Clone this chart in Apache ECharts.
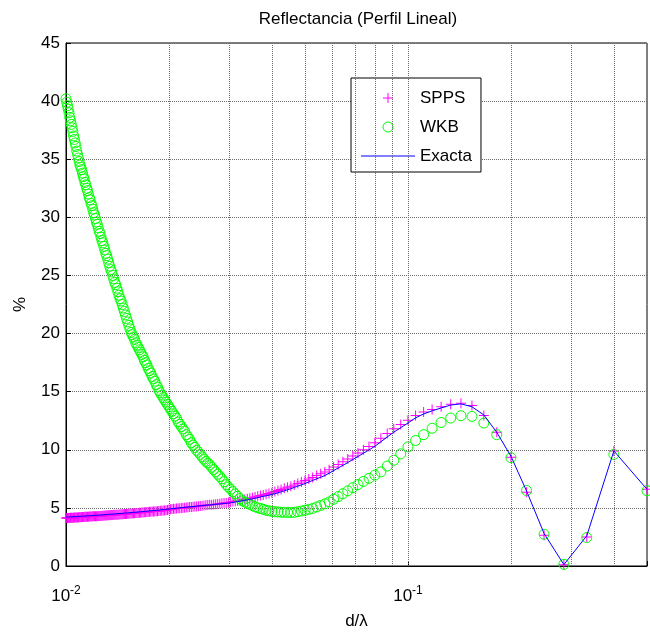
<!DOCTYPE html>
<html>
<head>
<meta charset="utf-8">
<script src="https://cdn.jsdelivr.net/npm/echarts@6/dist/echarts.min.js"></script>
<style>
  html, body { margin: 0; padding: 0; background: #fff; }
  #chart { width: 650px; height: 635px; }
</style>
</head>
<body>
<div id="chart"></div>
<script>
// d/lambda sample positions (x axis, log scale)
const dOverLambda = [
  0.01, 0.0100503, 0.010101, 0.0101523, 0.0102041, 0.0102564, 0.0103093, 0.0103627, 0.0104167, 0.0104712,
  0.0105263, 0.010582, 0.0106383, 0.0106952, 0.0107527, 0.0108108, 0.0108696, 0.010929, 0.010989, 0.0110497,
  0.0111111, 0.0111732, 0.011236, 0.0112994, 0.0113636, 0.0114286, 0.0114943, 0.0115607, 0.0116279, 0.011696,
  0.0117647, 0.0118343, 0.0119048, 0.011976, 0.0120482, 0.0121212, 0.0121951, 0.0122699, 0.0123457, 0.0124224,
  0.0125, 0.0125786, 0.0126582, 0.0127389, 0.0128205, 0.0129032, 0.012987, 0.0130719, 0.0131579, 0.013245,
  0.0133333, 0.0134228, 0.0135135, 0.0136054, 0.0136986, 0.0137931, 0.0138889, 0.013986, 0.0140845, 0.0141844,
  0.0142857, 0.0143885, 0.0144928, 0.0145985, 0.0147059, 0.0148148, 0.0149254, 0.0150376, 0.0151515, 0.0152672,
  0.0153846, 0.0155039, 0.015625, 0.015748, 0.015873, 0.016, 0.016129, 0.0162602, 0.0163934, 0.0165289,
  0.0166667, 0.0168067, 0.0169492, 0.017094, 0.0172414, 0.0173913, 0.0175439, 0.0176991, 0.0178571, 0.018018,
  0.0181818, 0.0183486, 0.0185185, 0.0186916, 0.0188679, 0.0190476, 0.0192308, 0.0194175, 0.0196078, 0.019802,
  0.02, 0.020202, 0.0204082, 0.0206186, 0.0208333, 0.0210526, 0.0212766, 0.0215054, 0.0217391, 0.021978,
  0.0222222, 0.0224719, 0.0227273, 0.0229885, 0.0232558, 0.0235294, 0.0238095, 0.0240964, 0.0243902, 0.0246914,
  0.025, 0.0253165, 0.025641, 0.025974, 0.0263158, 0.0266667, 0.027027, 0.0273973, 0.0277778, 0.028169,
  0.0285714, 0.0289855, 0.0294118, 0.0298507, 0.030303, 0.0307692, 0.03125, 0.031746, 0.0322581, 0.0327869,
  0.0333333, 0.0338983, 0.0344828, 0.0350877, 0.0357143, 0.0363636, 0.037037, 0.0377358, 0.0384615, 0.0392157,
  0.04, 0.0408163, 0.0416667, 0.0425532, 0.0434783, 0.0444444, 0.0454545, 0.0465116, 0.047619, 0.0487805,
  0.05, 0.051282, 0.052632, 0.054054, 0.055556, 0.057143, 0.058824, 0.060606, 0.0625, 0.064516,
  0.066667, 0.068966, 0.071429, 0.074074, 0.076923, 0.08, 0.083333, 0.086957, 0.090909, 0.095238,
  0.1, 0.105263, 0.111111, 0.117647, 0.125, 0.133333, 0.142857, 0.153846, 0.166667, 0.181818,
  0.2, 0.222222, 0.25, 0.285714, 0.333333, 0.4, 0.5
];

const spps = [
  4.12, 4.12, 4.13, 4.13, 4.14, 4.14, 4.15, 4.15, 4.15, 4.16,
  4.16, 4.17, 4.17, 4.18, 4.18, 4.18, 4.19, 4.19, 4.20, 4.20,
  4.21, 4.21, 4.22, 4.22, 4.23, 4.23, 4.23, 4.24, 4.24, 4.25,
  4.25, 4.26, 4.26, 4.27, 4.27, 4.28, 4.28, 4.29, 4.29, 4.30,
  4.30, 4.31, 4.31, 4.32, 4.33, 4.33, 4.34, 4.34, 4.35, 4.36,
  4.36, 4.37, 4.38, 4.38, 4.39, 4.40, 4.40, 4.41, 4.42, 4.42,
  4.43, 4.44, 4.45, 4.45, 4.46, 4.47, 4.48, 4.48, 4.49, 4.50,
  4.51, 4.52, 4.52, 4.53, 4.54, 4.55, 4.56, 4.57, 4.58, 4.59,
  4.60, 4.61, 4.62, 4.63, 4.64, 4.65, 4.66, 4.67, 4.68, 4.69,
  4.70, 4.71, 4.72, 4.73, 4.75, 4.76, 4.77, 4.78, 4.80, 4.81,
  4.86, 4.88, 4.90, 4.92, 4.93, 4.94, 4.96, 4.97, 4.98, 5.00,
  5.01, 5.03, 5.05, 5.07, 5.08, 5.10, 5.11, 5.13, 5.15, 5.17,
  5.18, 5.20, 5.22, 5.24, 5.26, 5.27, 5.30, 5.32, 5.34, 5.36,
  5.39, 5.41, 5.43, 5.46, 5.50, 5.54, 5.58, 5.62, 5.66, 5.70,
  5.74, 5.78, 5.83, 5.88, 5.94, 6.00, 6.06, 6.11, 6.17, 6.23,
  6.30, 6.40, 6.50, 6.59, 6.68, 6.77, 6.87, 6.98, 7.10, 7.22,
  7.35, 7.48, 7.62, 7.78, 7.93, 8.08, 8.29, 8.51, 8.73, 8.96,
  9.20, 9.46, 9.72, 10.0, 10.29, 10.6, 10.99, 11.4, 11.8, 12.18,
  12.55, 12.95, 13.25, 13.47, 13.7, 13.92, 14.0, 13.8, 12.95, 11.5,
  9.35, 6.35, 2.65, 0.1, 2.5, 9.9, 6.6
];

const wkb = [
  40.2, 39.9, 39.6, 39.3, 39.0, 38.6, 38.3, 38.0, 37.7, 37.4,
  37.0, 36.7, 36.4, 36.1, 35.7, 35.4, 35.1, 34.8, 34.5, 34.3,
  34.1, 33.8, 33.5, 33.3, 33.0, 32.8, 32.5, 32.3, 32.0, 31.7,
  31.5, 31.2, 31.0, 30.7, 30.4, 30.2, 29.9, 29.6, 29.4, 29.1,
  28.8, 28.6, 28.3, 28.0, 27.8, 27.5, 27.2, 26.9, 26.7, 26.4,
  26.1, 25.8, 25.5, 25.3, 25.0, 24.7, 24.4, 24.2, 23.9, 23.6,
  23.3, 23.0, 22.8, 22.5, 22.2, 21.9, 21.6, 21.3, 21.0, 20.7,
  20.4, 20.1, 19.9, 19.7, 19.5, 19.2, 19.0, 18.8, 18.6, 18.4,
  18.2, 18.0, 17.7, 17.5, 17.3, 17.0, 16.8, 16.6, 16.3, 16.1,
  15.9, 15.6, 15.4, 15.1, 14.9, 14.7, 14.5, 14.3, 14.1, 13.9,
  13.7, 13.5, 13.3, 13.1, 12.9, 12.7, 12.4, 12.2, 12.0, 11.8,
  11.6, 11.3, 11.1, 10.9, 10.6, 10.4, 10.2, 9.95, 9.8, 9.6,
  9.4, 9.2, 9.0, 8.85, 8.7, 8.5, 8.3, 8.1, 7.9, 7.7,
  7.5, 7.25, 7.0, 6.8, 6.6, 6.4, 6.2, 6.0, 5.8, 5.6,
  5.5, 5.4, 5.3, 5.2, 5.1, 5.0, 4.95, 4.88, 4.8, 4.75,
  4.7, 4.67, 4.65, 4.63, 4.62, 4.61, 4.6, 4.62, 4.67, 4.73,
  4.8, 4.87, 4.95, 5.08, 5.21, 5.35, 5.51, 5.74, 5.97, 6.22,
  6.47, 6.74, 7.01, 7.28, 7.54, 7.82, 8.1, 8.6, 9.1, 9.65,
  10.25, 10.8, 11.3, 11.85, 12.35, 12.73, 12.93, 12.87, 12.3, 11.3,
  9.32, 6.5, 2.73, 0.14, 2.45, 9.6, 6.48
];

const exacta = [
  4.20, 4.20, 4.21, 4.21, 4.22, 4.22, 4.23, 4.23, 4.23, 4.24,
  4.24, 4.25, 4.25, 4.26, 4.26, 4.26, 4.27, 4.27, 4.28, 4.28,
  4.29, 4.29, 4.30, 4.30, 4.31, 4.31, 4.31, 4.32, 4.32, 4.33,
  4.33, 4.34, 4.34, 4.35, 4.35, 4.36, 4.36, 4.37, 4.37, 4.38,
  4.38, 4.39, 4.39, 4.40, 4.41, 4.41, 4.42, 4.42, 4.43, 4.44,
  4.44, 4.45, 4.46, 4.46, 4.47, 4.48, 4.48, 4.49, 4.50, 4.50,
  4.51, 4.52, 4.53, 4.53, 4.54, 4.55, 4.56, 4.56, 4.57, 4.58,
  4.59, 4.60, 4.60, 4.61, 4.62, 4.63, 4.64, 4.65, 4.66, 4.67,
  4.68, 4.69, 4.70, 4.71, 4.72, 4.73, 4.74, 4.75, 4.76, 4.77,
  4.78, 4.79, 4.80, 4.81, 4.83, 4.84, 4.85, 4.86, 4.88, 4.89,
  4.91, 4.92, 4.93, 4.95, 4.96, 4.97, 4.99, 5.00, 5.01, 5.03,
  5.04, 5.06, 5.07, 5.09, 5.10, 5.12, 5.13, 5.15, 5.16, 5.18,
  5.19, 5.21, 5.22, 5.24, 5.26, 5.27, 5.29, 5.31, 5.32, 5.34,
  5.36, 5.38, 5.39, 5.41, 5.44, 5.47, 5.51, 5.54, 5.58, 5.61,
  5.65, 5.69, 5.73, 5.78, 5.83, 5.88, 5.94, 5.99, 6.04, 6.09,
  6.15, 6.22, 6.30, 6.38, 6.47, 6.56, 6.65, 6.76, 6.87, 6.98,
  7.10, 7.23, 7.36, 7.50, 7.64, 7.78, 7.99, 8.21, 8.43, 8.66,
  8.90, 9.16, 9.42, 9.70, 9.99, 10.3, 10.69, 11.1, 11.52, 11.9,
  12.3, 12.75, 13.08, 13.35, 13.6, 13.85, 13.95, 13.7, 13.0, 11.5,
  9.45, 6.45, 2.8, 0.12, 2.6, 9.9, 6.6
];

const seriesNames = ['SPPS', 'WKB', 'Exacta'];
const minorGridX = [0.02, 0.03, 0.04, 0.05, 0.06, 0.07, 0.08, 0.09, 0.1, 0.2, 0.3, 0.4];
const yTicks = { min: 0, max: 45, interval: 5 };
const titleText = 'Reflectancia (Perfil Lineal)';
const xName = 'd/λ';
const yName = '%';

const FONT = '"Liberation Sans", Arial, Helvetica, sans-serif';
const crossPath = 'path://M4.5,0H5.5V4.5H10V5.5H5.5V10H4.5V5.5H0V4.5H4.5Z';
const linePath = 'path://M0,0H54V1H0Z';

function pairs(ys) { return dOverLambda.map((x, i) => [x, ys[i]]); }

const chart = echarts.init(document.getElementById('chart'), null, { renderer: 'canvas' });
chart.setOption({
  animation: false,
  backgroundColor: '#fff',
  textStyle: { fontFamily: FONT },
  title: {
    text: titleText,
    left: 358, top: 11, padding: 0, textAlign: 'center',
    textStyle: { fontSize: 17, fontWeight: 'normal', color: '#000', fontFamily: FONT }
  },
  grid: {
    left: 66, top: 43, width: 585, height: 528,
    show: true, borderColor: '#000', borderWidth: 1, backgroundColor: 'transparent'
  },
  legend: {
    orient: 'vertical', left: 351, top: 78,
    padding: [10, 9, 6, 10], itemGap: 9, itemWidth: 54, itemHeight: 10,
    borderColor: '#000', borderWidth: 1, borderRadius: 0, backgroundColor: '#fff',
    textStyle: { fontSize: 17, color: '#000', fontFamily: FONT, lineHeight: 20 },
    data: [
      { name: seriesNames[0], icon: crossPath },
      { name: seriesNames[1], icon: 'circle',
        itemStyle: { color: 'rgba(0,0,0,0)', borderColor: '#00ff00', borderWidth: 1 } },
      { name: seriesNames[2], icon: linePath }
    ]
  },
  xAxis: {
    type: 'log', logBase: 10, min: 0.01, max: 0.5,
    name: xName, nameLocation: 'middle', nameGap: 47,
    nameTextStyle: { fontSize: 17, color: '#000', fontFamily: FONT },
    axisLine: { lineStyle: { color: '#000', width: 1 } },
    axisTick: { inside: true, length: 5, lineStyle: { color: '#000' } },
    splitLine: { show: false },
    axisLabel: {
      margin: 19, color: '#000',
      formatter: function (v) {
        const l = Math.log10(v);
        const e = Math.round(l);
        if (Math.abs(l - e) > 1e-6) return '';
        return '{b|10}{s|' + e + '}';
      },
      rich: {
        b: { fontSize: 17, color: '#000', fontFamily: FONT, verticalAlign: 'bottom' },
        s: { fontSize: 12, color: '#000', fontFamily: FONT, verticalAlign: 'bottom', padding: [0, 0, 8, 0] }
      }
    }
  },
  yAxis: {
    type: 'value', min: yTicks.min, max: yTicks.max, interval: yTicks.interval,
    name: yName, nameLocation: 'middle', nameGap: 37,
    nameTextStyle: { fontSize: 17, color: '#000', fontFamily: FONT },
    axisLine: { show: true, lineStyle: { color: '#000', width: 1 } },
    axisTick: { show: true, inside: true, length: 5, lineStyle: { color: '#000' } },
    axisLabel: { fontSize: 17, color: '#000', margin: 6, fontFamily: FONT },
    splitLine: { show: true, lineStyle: { color: '#6a6a6a', type: 'dotted', width: 1 } }
  },
  series: [
    {
      name: '__grid', type: 'line', data: [], z: 1, silent: true,
      markLine: {
        silent: true, symbol: ['none', 'none'], label: { show: false },
        lineStyle: { color: '#6a6a6a', type: 'dotted', width: 1 },
        data: minorGridX.map(v => ({ xAxis: v }))
      }
    },
    {
      name: seriesNames[0], type: 'scatter', data: pairs(spps),
      symbol: crossPath, symbolSize: 10, z: 3,
      itemStyle: { color: '#ff00ff', opacity: 1 }
    },
    {
      name: seriesNames[1], type: 'scatter', data: pairs(wkb),
      symbol: 'circle', symbolSize: 10, z: 4,
      itemStyle: { color: 'rgba(0,0,0,0)', borderColor: '#00ff00', borderWidth: 1, opacity: 1 }
    },
    {
      name: seriesNames[2], type: 'line', data: pairs(exacta),
      showSymbol: false, symbol: 'none', z: 5,
      lineStyle: { color: '#0000ff', width: 1 },
      itemStyle: { color: '#0000ff' }
    }
  ]
});
</script>
</body>
</html>
